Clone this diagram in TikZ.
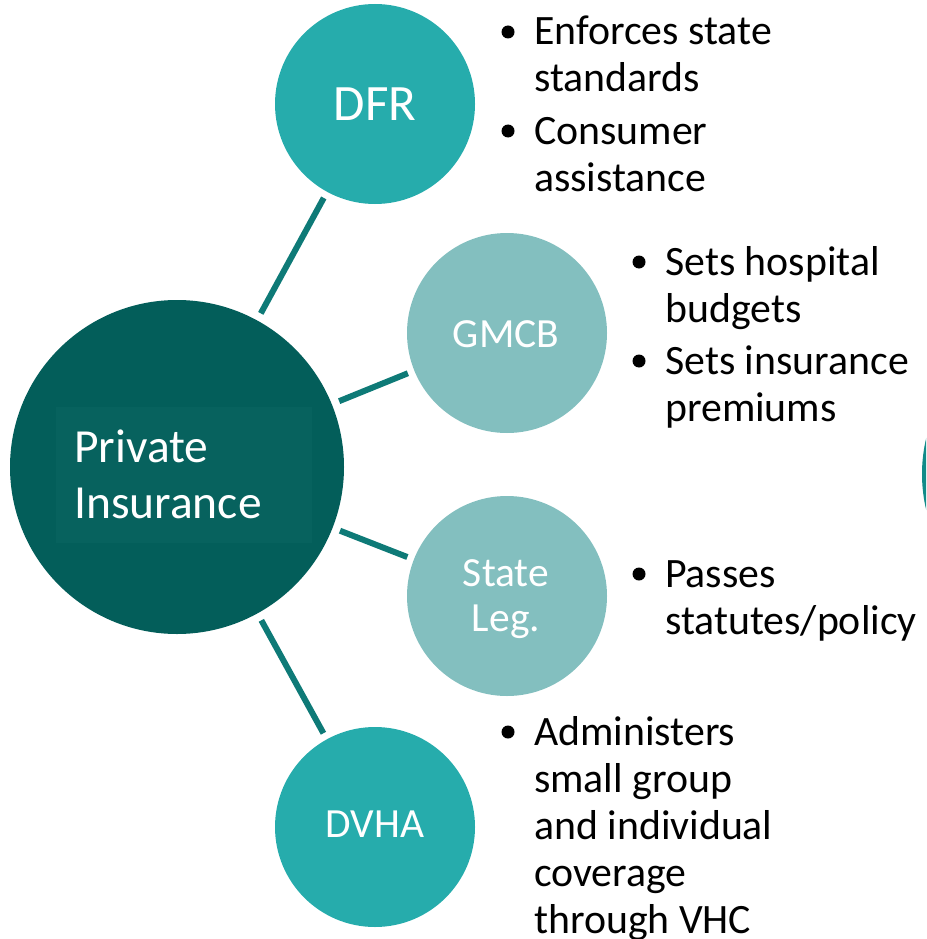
\documentclass[tikz,border=0pt]{standalone}
\usepackage{fontspec}
\setmainfont{Carlito}
\definecolor{darkc}{HTML}{035E5A}
\definecolor{darkin}{HTML}{07625E}
\definecolor{midc}{HTML}{26ACAC}
\definecolor{lightc}{HTML}{83BFBF}
\definecolor{conncol}{HTML}{0E7A77}
\definecolor{sidec}{HTML}{128B89}
\begin{document}
\begin{tikzpicture}[x=1pt,y=-1pt,
  circ/.style={circle,inner sep=0pt,outer sep=0pt,draw=none},
  conn/.style={draw=conncol,line width=6pt,shorten <=8pt,shorten >=7pt},
  lab/.style={text=white,anchor=base,inner sep=0pt},
  txt/.style={anchor=base west,inner sep=0pt,font=\fontsize{41.8}{47}\selectfont},
  bul/.style={circle,fill=black,inner sep=0pt,outer sep=0pt,minimum size=13pt}]
\useasboundingbox (0,0) rectangle (926,939);
\clip (0,0) rectangle (926,939);
% partial circle at right edge
\fill[sidec] (1077,474) circle (155);
% main circles
\node[circ,fill=darkc,minimum size=334pt] (pi) at (177,467) {};
\fill[darkin] (56,407) rectangle (312,543);
\node[circ,fill=midc,minimum size=200pt] (dfr) at (375,104) {};
\node[circ,fill=lightc,minimum size=200pt] (gmcb) at (507,333) {};
\node[circ,fill=lightc,minimum size=200pt] (leg) at (507,596) {};
\node[circ,fill=midc,minimum size=200pt] (dvha) at (375,827) {};
% connectors
\draw[conn] (pi) -- (dfr);
\draw[conn] (pi) -- (gmcb);
\draw[conn] (pi) -- (leg);
\draw[conn] (pi) -- (dvha);
% circle labels
\node[lab,anchor=base west,font=\fontsize{47.5}{56}\selectfont] (piA) at (74,462) {Private};
\node[lab,anchor=base west,font=\fontsize{47.5}{56}\selectfont] (piB) at (74,518) {Insurance};
\node[lab,font=\fontsize{51}{60}\selectfont] (dfrT) at (375,121) {DFR};
\node[lab,font=\fontsize{41.5}{45}\selectfont] (gmcbT) at (506,347) {GMCB};
\node[lab,font=\fontsize{41.5}{45}\selectfont] (legA) at (506,586) {State};
\node[lab,font=\fontsize{41.5}{45}\selectfont] (legB) at (506,631) {Leg.};
\node[lab,font=\fontsize{41.5}{45}\selectfont] (dvhaT) at (375,837) {DVHA};
% DFR bullets
\node[bul] (b1) at (508,32) {};
\node[txt] (t1a) at (534,45) {Enforces state};
\node[txt] (t1b) at (534,92) {standards};
\node[bul] (b2) at (508,131) {};
\node[txt] (t2a) at (534,144) {Consumer};
\node[txt] (t2b) at (534,191) {assistance};
% GMCB bullets
\node[bul] (b3) at (639,262) {};
\node[txt] (t3a) at (665,275) {Sets hospital};
\node[txt] (t3b) at (665,322) {budgets};
\node[bul] (b4) at (639,361) {};
\node[txt] (t4a) at (665,374) {Sets insurance};
\node[txt] (t4b) at (665,421) {premiums};
% State Leg. bullets
\node[bul] (b5) at (639,574) {};
\node[txt] (t5a) at (665,587) {Passes};
\node[txt] (t5b) at (665,634) {statutes/policy};
% DVHA bullets
\node[bul] (b6) at (508,732) {};
\node[txt] (t6a) at (534,745) {Administers};
\node[txt] (t6b) at (534,792) {small group};
\node[txt] (t6c) at (534,839) {and individual};
\node[txt] (t6d) at (534,886) {coverage};
\node[txt] (t6e) at (534,933) {through VHC};
\end{tikzpicture}
\end{document}
